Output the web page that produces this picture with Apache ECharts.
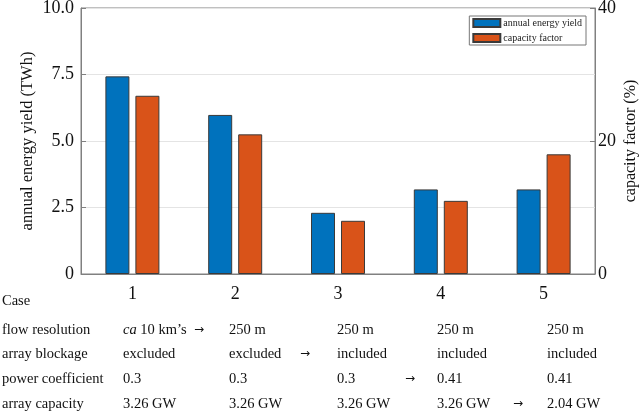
<!DOCTYPE html>
<html><head><meta charset="utf-8">
<script src="https://cdn.jsdelivr.net/npm/echarts@6/dist/echarts.min.js"></script>
<style>html,body{margin:0;padding:0;background:#fff}#c{width:639px;height:415px}</style>
</head><body><div id="c"></div>
<script>
const categories = ['1','2','3','4','5'];
const energyYield = [7.43, 5.98, 2.30, 3.18, 3.18];
const capacityFactor = [26.8, 21.0, 8.0, 11.0, 18.0];
const leftTicks = ['0','2.5','5.0','7.5','10.0'];
const rightTicks = ['0','20','40'];
const rowLabels = ['flow resolution','array blockage','power coefficient','array capacity'];
const flowResolution = ['{i|ca} 10 km\u2019s','250 m','250 m','250 m','250 m'];
const arrayBlockage = ['excluded','excluded','included','included','included'];
const powerCoefficient = ['0.3','0.3','0.3','0.41','0.41'];
const arrayCapacity = ['3.26 GW','3.26 GW','3.26 GW','3.26 GW','2.04 GW'];

const FONT = '"Liberation Serif", "DejaVu Serif", serif';
const TFS = 14.5;
const colX = [123, 229, 337, 437, 547];
const arrowX = [194, 300, 405, 513];
const rowY = [330, 354, 379, 404];
const rows = [flowResolution, arrayBlockage, powerCoefficient, arrayCapacity];

const graphics = [];
graphics.push({type:'text', x:2, y:301, style:{text:'Case', font:TFS+'px '+FONT, fill:'#111', verticalAlign:'middle'}});
rows.forEach((r, ri) => {
  graphics.push({type:'text', x:2, y:rowY[ri], style:{text:rowLabels[ri], font:TFS+'px '+FONT, fill:'#111', verticalAlign:'middle'}});
  r.forEach((t, ci) => {
    graphics.push({type:'text', x:colX[ci], y:rowY[ri], style:{text:t, font:TFS+'px '+FONT, fill:'#111', verticalAlign:'middle',
      rich:{i:{fontStyle:'italic', fontSize:TFS, fontFamily:FONT}}}});
  });
  graphics.push({type:'text', x:arrowX[ri], y:rowY[ri], style:{text:'\u2192', font:'12px "DejaVu Sans", sans-serif', fill:'#111', verticalAlign:'middle'}});
});

const chart = echarts.init(document.getElementById('c'));
chart.setOption({
  animation:false,
  textStyle:{fontFamily:FONT},
  grid:{left:81, right:44, top:8, bottom:141, show:true, borderColor:'#808080', borderWidth:1, containLabel:false, outerBoundsMode:'none'},
  legend:{
    orient:'vertical', right:53, top:16, borderColor:'#777', borderWidth:1, padding:[2,4,2,3],
    itemWidth:27, itemHeight:8, itemGap:5, icon:'rect',
    textStyle:{fontSize:10, fontFamily:FONT, color:'#222', padding:[0,0,0,-2]},
    data:['annual energy yield','capacity factor']
  },
  xAxis:{
    type:'category', data:categories,
    axisLine:{lineStyle:{color:'#808080'}}, axisTick:{show:false},
    axisLabel:{fontSize:18, color:'#111', margin:11, fontFamily:FONT}
  },
  yAxis:[{
    type:'value', min:0, max:10, interval:2.5,
    name:'annual energy yield (TWh)', nameLocation:'middle', nameGap:45, nameRotate:90, nameMoveOverlap:false,
    nameTextStyle:{fontSize:16.5, color:'#111', fontFamily:FONT},
    axisLine:{show:true, lineStyle:{color:'#808080'}},
    axisTick:{show:true, inside:true, length:5, lineStyle:{color:'#808080'}},
    axisLabel:{fontSize:18, color:'#111', margin:7, fontFamily:FONT, formatter:(v,i)=>leftTicks[i]},
    splitLine:{show:true, lineStyle:{color:'#e4e4e4'}}
  },{
    type:'value', min:0, max:40, interval:20,
    name:'capacity factor (%)', nameLocation:'middle', nameGap:28, nameRotate:90, nameMoveOverlap:false,
    nameTextStyle:{fontSize:16, color:'#111', fontFamily:FONT},
    axisLine:{show:true, lineStyle:{color:'#808080'}},
    axisTick:{show:true, inside:true, length:5, lineStyle:{color:'#808080'}},
    axisLabel:{fontSize:18, color:'#111', margin:3, fontFamily:FONT, formatter:(v,i)=>rightTicks[i]},
    splitLine:{show:false}
  }],
  series:[{
    name:'annual energy yield', type:'bar', yAxisIndex:0, data:energyYield,
    barWidth:24, barGap:'25%',
    itemStyle:{color:'#0072BD', borderColor:'#3a3a3a', borderWidth:1}
  },{
    name:'capacity factor', type:'bar', yAxisIndex:1, data:capacityFactor,
    barWidth:24, barGap:'25%',
    itemStyle:{color:'#D95319', borderColor:'#3a3a3a', borderWidth:1}
  }],
  graphic:graphics
});
</script></body></html>
